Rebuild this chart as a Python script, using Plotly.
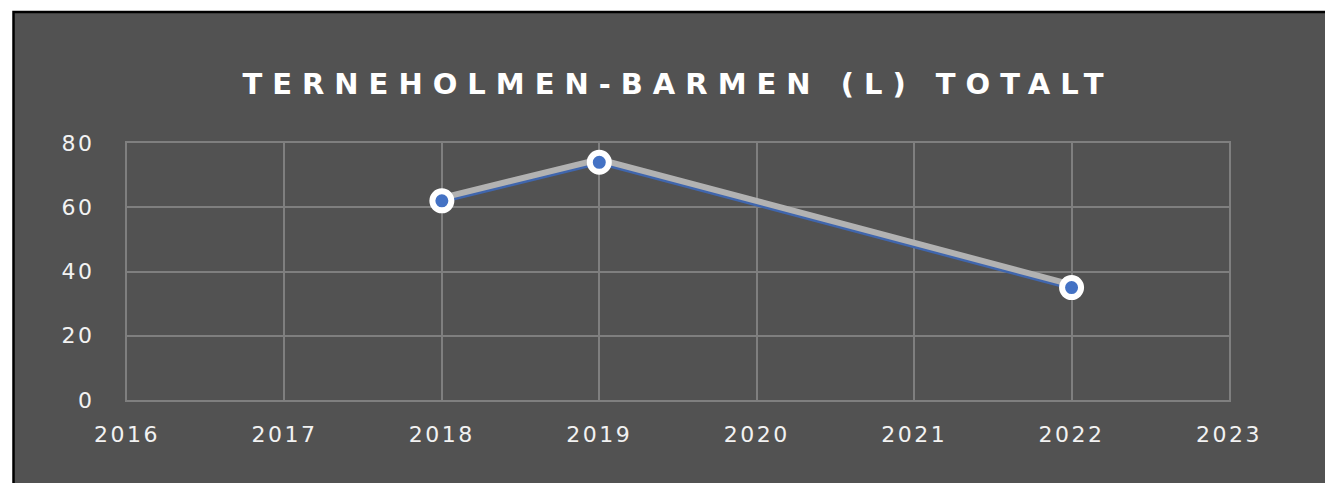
import plotly.graph_objects as go

# Yearly totals
years = [2018, 2019, 2022]
totals = [62, 74, 35]

x_ticks = [2016, 2017, 2018, 2019, 2020, 2021, 2022, 2023]
y_ticks = [0, 20, 40, 60, 80]
title_text = "TERNEHOLMEN-BARMEN (L) TOTALT"

W, H = 1325, 483
ML, MR, MT, MB = 127, 96, 143, 83
PW, PH = W - ML - MR, H - MT - MB

BG = "#525252"
GRID = "#7f7f7f"
LABEL = "#f2f2f2"
BLUE = "#4472C4"
SHADOW_BLUE = "#4066AD"
GREY = "#B2B2B2"


def px_x(px):
    return (px - ML) / PW


def px_y(py):
    return (H - MB - py) / PH


def spaced(s, gap):
    return f'<span style="letter-spacing:{gap}px">{s}</span>'


# the grey line sits about 3 px above its blue under-line
lift = 3 * 80 / PH
y_range = [y_ticks[0], y_ticks[-1]]

fig = go.Figure()

# blue under-line on the main axes
fig.add_trace(go.Scatter(
    x=years, y=totals, mode="lines",
    line=dict(color=SHADOW_BLUE, width=5), hoverinfo="skip", showlegend=False,
))
# grey line on an overlay axis shifted slightly upward
fig.add_trace(go.Scatter(
    x=years, y=totals, yaxis="y2", mode="lines",
    line=dict(color=GREY, width=6), hoverinfo="skip", showlegend=False,
))
# ringed markers on top
fig.add_trace(go.Scatter(
    x=years, y=totals, yaxis="y3", mode="markers",
    marker=dict(size=19, color=BLUE, line=dict(color="white", width=6)),
    showlegend=False,
))

axis_font = dict(family="DejaVu Sans", size=22, color=LABEL)

fig.update_layout(
    width=W, height=H,
    margin=dict(l=ML, r=MR, t=MT, b=MB),
    paper_bgcolor="white",
    plot_bgcolor=BG,
    title=dict(
        text=spaced(f"<b>{title_text}</b>", 10),
        x=0.5, xref="paper", xanchor="center",
        y=1 - 84 / H, yref="container", yanchor="middle",
        font=dict(family="DejaVu Sans", size=29, color="white"),
    ),
    xaxis=dict(
        range=[x_ticks[0], x_ticks[-1]],
        tickvals=x_ticks,
        ticktext=[spaced(str(t), 2.5) for t in x_ticks],
        showgrid=True, gridcolor=GRID, gridwidth=2,
        showline=True, mirror=True, linecolor=GRID, linewidth=2,
        zeroline=False, ticks="", ticklabelstandoff=14,
        tickfont=axis_font,
    ),
    yaxis=dict(
        range=y_range,
        tickvals=y_ticks,
        ticktext=[spaced(str(t), 2.5) for t in y_ticks],
        showgrid=True, gridcolor=GRID, gridwidth=2,
        showline=True, mirror=True, linecolor=GRID, linewidth=2,
        zeroline=False, ticks="", ticklabelstandoff=26,
        tickfont=axis_font,
    ),
    yaxis2=dict(
        range=[y_range[0] - lift, y_range[1] - lift],
        overlaying="y", visible=False,
    ),
    yaxis3=dict(range=y_range, overlaying="y", visible=False),
    shapes=[dict(
        type="rect", layer="below",
        xref="paper", yref="paper",
        x0=px_x(13.5), x1=px_x(W + 20), y0=px_y(H + 20), y1=px_y(12),
        fillcolor=BG, line=dict(color="black", width=2.5),
    )],
)

fig.write_html("out.html")
